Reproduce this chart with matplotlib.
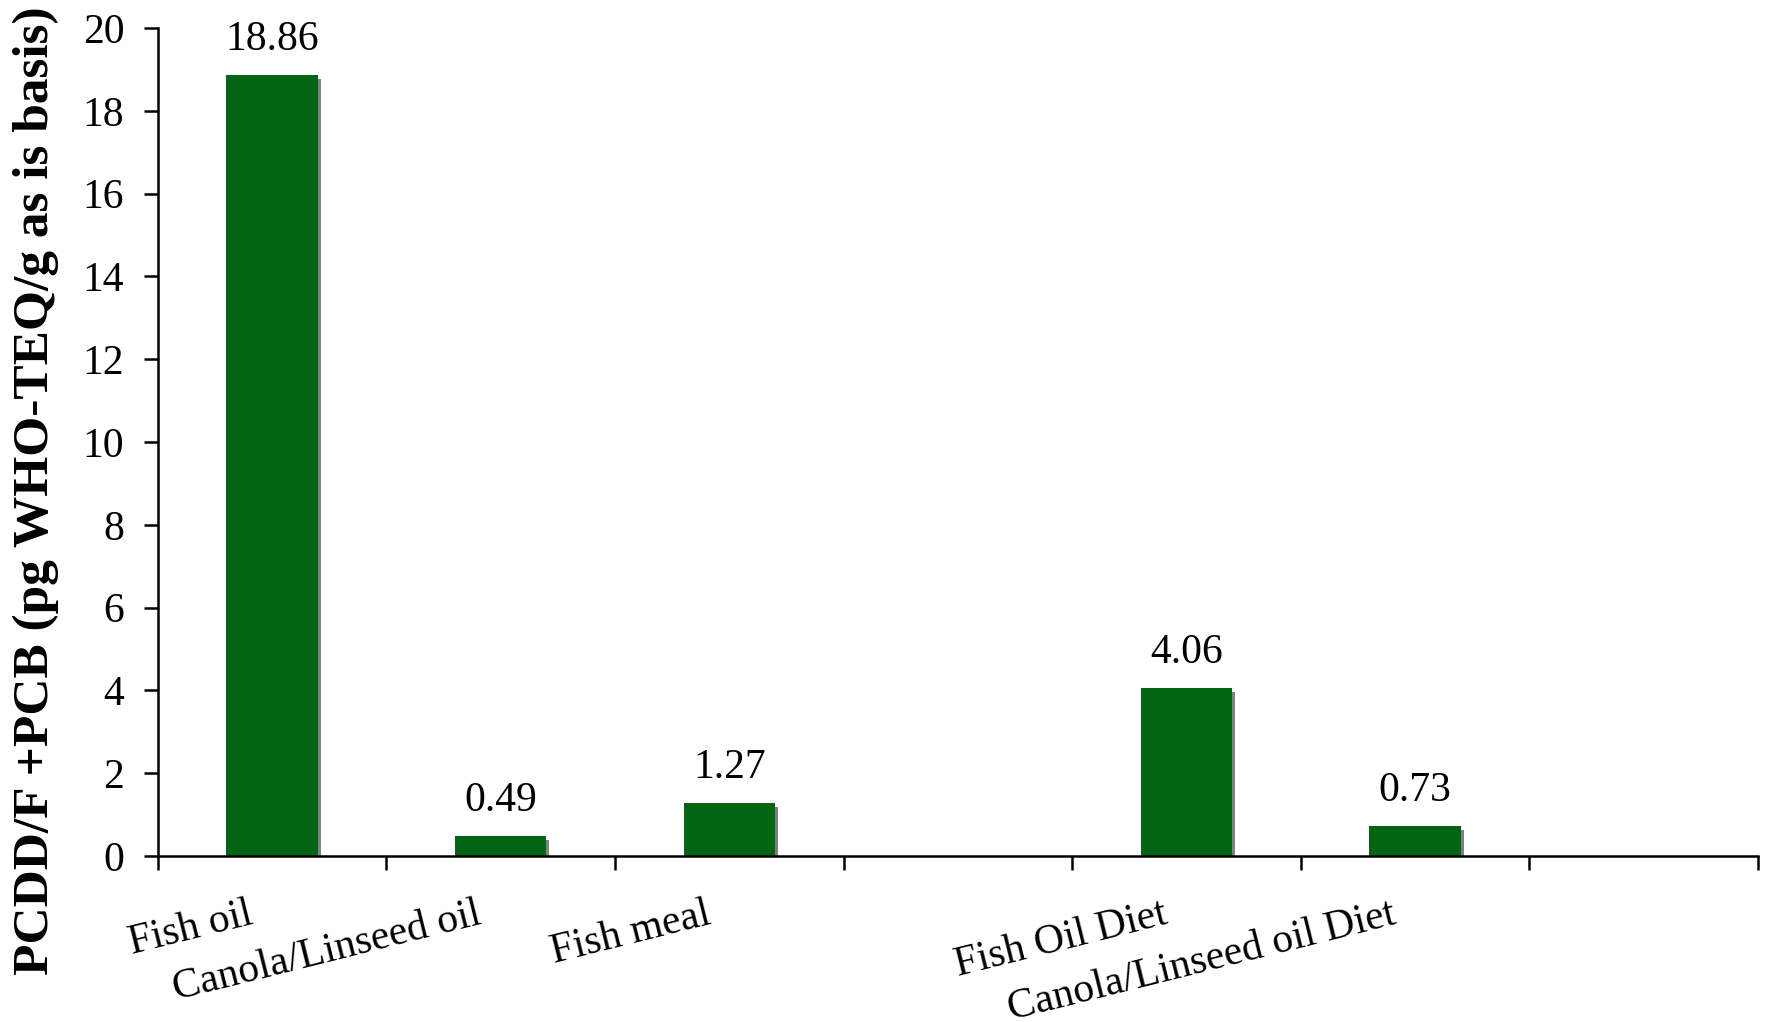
import numpy as np
import matplotlib.pyplot as plt
import matplotlib.patheffects as pe
from matplotlib.transforms import offset_copy

plt.rcParams["font.family"] = ["Liberation Serif", "DejaVu Serif"]

# seven category slots, two of them left empty as in the original sheet
categories = ["Fish oil", "Canola/Linseed oil", "Fish meal", "",
              "Fish Oil Diet", "Canola/Linseed oil Diet", ""]
values = [18.86, 0.49, 1.27, None, 4.06, 0.73, None]
y_ticks = list(range(0, 21, 2))

BAR_COLOR = "#036414"
SHADOW = "#808080"

fig = plt.figure(figsize=(17.66, 10.22), dpi=100)
ax = fig.add_axes([0.0893, 0.1624, 0.9062, 0.8102])

pos = np.arange(len(categories))
shadow = [pe.SimplePatchShadow(offset=(2.2, -2.9), shadow_rgbFace=SHADOW, alpha=1.0), pe.Normal()]
for x, v in zip(pos, values):
    if v is None:
        continue
    b = ax.bar(x, v, width=0.40, color=BAR_COLOR, zorder=2)
    b[0].set_path_effects(shadow)
    ax.annotate(f"{v:.2f}", (x, v), xytext=(0, 18), textcoords="offset points",
                ha="center", va="baseline", fontsize=30)

ax.set_xlim(-0.5, len(categories) - 0.5)
ax.set_ylim(0, 20)
ax.set_yticks(y_ticks)
ax.set_xticks(np.arange(-0.5, len(categories) + 0.5, 1.0))
ax.set_xticklabels([])
ax.tick_params(axis="y", labelsize=30, length=10, width=1.8, pad=14)
ax.tick_params(axis="x", length=10, width=1.8)

for s in ["top", "right"]:
    ax.spines[s].set_visible(False)
for s in ["left", "bottom"]:
    ax.spines[s].set_linewidth(1.8)
    ax.spines[s].set_zorder(3)

fig.text(0.0204, 0.52, "PCDD/F +PCB (pg WHO-TEQ/g as is basis)", fontsize=37,
         fontweight="bold", rotation=90, ha="center", va="center")

# slanted category labels, right end just left of the slot centre
lab_tr = offset_copy(ax.get_xaxis_transform(), fig=fig, x=-15, y=0, units="dots")
for x, lab in zip(pos, categories):
    if lab:
        ax.text(x, -0.047, lab, transform=lab_tr, rotation=14,
                ha="right", va="top", fontsize=30)

fig.savefig("out.png", dpi=100)
